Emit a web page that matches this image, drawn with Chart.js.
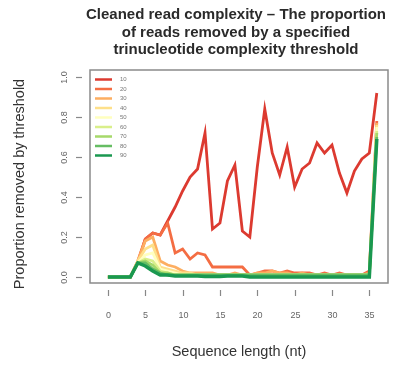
<!DOCTYPE html>
<html>
<head>
<meta charset="utf-8">
<script src="https://cdn.jsdelivr.net/npm/chart.js@4.4.0/dist/chart.umd.min.js"></script>
<style>
  body { margin: 0; background: #fff; }
  canvas { display: block; }
</style>
</head>
<body>
<canvas id="complexity-chart" width="406" height="365"></canvas>
<script>
// Sequence lengths (nt) on the x axis
const lengths = [0, 1, 2, 3, 4, 5, 6, 7, 8, 9, 10, 11, 12, 13, 14, 15, 16, 17, 18, 19, 20,
  21, 22, 23, 24, 25, 26, 27, 28, 29, 30, 31, 32, 33, 34, 35, 36];

// Complexity thresholds (legend) and their colours
const thresholds = ["10", "20", "30", "40", "50", "60", "70", "80", "90"];
const colours = ["#dc3a30", "#f46d43", "#fdae61", "#fee08b", "#ffffbf",
  "#d9ef8b", "#a6d96a", "#66bd63", "#1a9850"];

// Proportion of reads removed, one array per threshold
const removed10 = [0, 0, 0, 0, 0.07, 0.19, 0.22, 0.21, 0.28, 0.35, 0.43, 0.50, 0.54, 0.72, 0.24, 0.27, 0.48, 0.56, 0.23, 0.20,
  0.55, 0.84, 0.62, 0.51, 0.65, 0.45, 0.54, 0.57, 0.67, 0.62, 0.66, 0.52, 0.42, 0.53, 0.59, 0.62, 0.92];
const removed20 = [0, 0, 0, 0, 0.08, 0.19, 0.22, 0.21, 0.27, 0.12, 0.14, 0.09, 0.12, 0.11, 0.05, 0.05, 0.05, 0.05, 0.05, 0.01,
  0.02, 0.03, 0.03, 0.02, 0.03, 0.02, 0.02, 0.02, 0.01, 0.02, 0.01, 0.02, 0.01, 0.01, 0.01, 0.03, 0.78];
const removed30 = [0, 0, 0, 0, 0.08, 0.18, 0.20, 0.08, 0.06, 0.05, 0.03, 0.02, 0.02, 0.02, 0.02, 0.01, 0.01, 0.02, 0.01, 0.01,
  0.02, 0.02, 0.03, 0.02, 0.02, 0.01, 0.02, 0.01, 0.01, 0.01, 0.01, 0.01, 0.01, 0.01, 0.01, 0.02, 0.77];
const removed40 = [0, 0, 0, 0, 0.08, 0.14, 0.16, 0.05, 0.04, 0.03, 0.02, 0.02, 0.01, 0.01, 0.01, 0.01, 0.01, 0.01, 0.01, 0.01,
  0.01, 0.01, 0.01, 0.01, 0.01, 0.01, 0.01, 0.01, 0.01, 0.01, 0.01, 0.01, 0.01, 0.01, 0.01, 0.01, 0.76];
const removed50 = [0, 0, 0, 0, 0.07, 0.11, 0.12, 0.04, 0.03, 0.02, 0.01, 0.01, 0.01, 0.01, 0.01, 0.01, 0.01, 0.01, 0.01, 0.01,
  0.01, 0.01, 0.01, 0.01, 0.01, 0.01, 0.01, 0.01, 0.01, 0.01, 0.01, 0.01, 0.01, 0.01, 0.01, 0.01, 0.75];
const removed60 = [0, 0, 0, 0, 0.07, 0.09, 0.08, 0.03, 0.02, 0.01, 0.01, 0.01, 0.01, 0.01, 0.01, 0.01, 0.01, 0.01, 0.01, 0.01,
  0.01, 0.01, 0.01, 0.01, 0.01, 0.01, 0.01, 0.01, 0.01, 0.01, 0.01, 0.01, 0.01, 0.01, 0.01, 0.01, 0.73];
const removed70 = [0, 0, 0, 0, 0.07, 0.08, 0.06, 0.02, 0.02, 0.01, 0.01, 0.01, 0.01, 0.01, 0.01, 0.01, 0.01, 0.01, 0.01, 0.01,
  0.01, 0.01, 0.01, 0.01, 0.01, 0.01, 0.01, 0.01, 0.01, 0.01, 0.01, 0.01, 0.01, 0.01, 0.01, 0.01, 0.72];
const removed80 = [0, 0, 0, 0, 0.07, 0.07, 0.04, 0.02, 0.01, 0.01, 0.01, 0.01, 0.01, 0.01, 0.01, 0.01, 0.01, 0.01, 0.01, 0.01,
  0.01, 0.01, 0.01, 0.01, 0.01, 0.01, 0.01, 0.01, 0.01, 0.01, 0.01, 0.01, 0.01, 0.01, 0.01, 0.01, 0.70];
const removed90 = [0, 0, 0, 0, 0.07, 0.055, 0.03, 0.01, 0.01, 0.005, 0.005, 0.005, 0.005, 0.003, 0.003, 0.003, 0.005, 0.005, 0.005, 0,
  0, 0, 0, 0, 0, 0, 0, 0, 0, 0, 0, 0, 0, 0, 0, 0, 0.69];

const seriesValues = [removed10, removed20, removed30, removed40, removed50,
  removed60, removed70, removed80, removed90];

// Axis ticks and texts
const xTicks = [0, 5, 10, 15, 20, 25, 30, 35];
const yTicks = [0, 0.2, 0.4, 0.6, 0.8, 1.0];
const titleLines = [
  "Cleaned read complexity \u2013 The proportion",
  "of reads removed by a specified",
  "trinucleotide complexity threshold",
];
const xTitle = "Sequence length (nt)";
const yTitle = "Proportion removed by threshold";

const FONT = "'Liberation Sans', Arial, Helvetica, sans-serif";

// R style box, detached ticks, titles and inset legend
const baseGraphics = {
  id: "baseGraphics",
  afterDraw(chart) {
    const { ctx, chartArea: area, scales } = chart;
    const xs = scales.x;
    const ys = scales.y;
    ctx.save();

    // plot box
    ctx.strokeStyle = "#8a8a8a";
    ctx.lineWidth = 1.5;
    ctx.strokeRect(area.left, area.top, area.right - area.left, area.bottom - area.top);

    // x axis ticks + labels
    ctx.strokeStyle = "#888";
    ctx.lineWidth = 1.2;
    ctx.fillStyle = "#666";
    ctx.font = "9px " + FONT;
    ctx.textAlign = "center";
    ctx.textBaseline = "middle";
    xTicks.forEach((v) => {
      const px = Math.round(xs.getPixelForValue(v)) + 0.5;
      ctx.beginPath();
      ctx.moveTo(px, area.bottom + 7);
      ctx.lineTo(px, area.bottom + 13);
      ctx.stroke();
      ctx.fillText(String(v), px, area.bottom + 33);
    });

    // y axis ticks + rotated labels
    yTicks.forEach((v) => {
      const py = Math.round(ys.getPixelForValue(v)) + 0.5;
      ctx.beginPath();
      ctx.moveTo(area.left - 14, py);
      ctx.lineTo(area.left - 8, py);
      ctx.stroke();
      ctx.save();
      ctx.translate(area.left - 25, py);
      ctx.rotate(-Math.PI / 2);
      ctx.fillText(v.toFixed(1), 0, 0);
      ctx.restore();
    });

    // main title
    const cx = (area.left + area.right) / 2;
    ctx.fillStyle = "#2a2a2a";
    ctx.font = "bold 15px " + FONT;
    titleLines.forEach((line, i) => {
      ctx.fillText(line, cx - 3, 15 + i * 17.5);
    });

    // axis titles
    ctx.fillStyle = "#333";
    ctx.font = "14.5px " + FONT;
    ctx.fillText(xTitle, cx, 352);
    ctx.save();
    ctx.translate(20, 184);
    ctx.rotate(-Math.PI / 2);
    ctx.fillText(yTitle, 0, 0);
    ctx.restore();

    // legend inside the plot, top left
    ctx.font = "6px " + FONT;
    ctx.textAlign = "left";
    chart.data.datasets.forEach((ds, i) => {
      const ly = area.top + 9.5 + i * 9.5;
      ctx.strokeStyle = ds.borderColor;
      ctx.lineWidth = 2.5;
      ctx.beginPath();
      ctx.moveTo(area.left + 5, ly);
      ctx.lineTo(area.left + 22, ly);
      ctx.stroke();
      ctx.fillStyle = "#777";
      ctx.fillText(ds.label, area.left + 30, ly);
    });

    ctx.restore();
  },
};

const datasets = seriesValues.map((values, i) => ({
  label: thresholds[i],
  data: lengths.map((len, j) => ({ x: len, y: values[j] })),
  borderColor: colours[i],
  backgroundColor: colours[i],
  borderWidth: i === seriesValues.length - 1 ? 3.5 : 2.8,
  pointRadius: 0,
  tension: 0,
  fill: false,
  order: seriesValues.length - i, // last threshold drawn on top
}));

new Chart(document.getElementById("complexity-chart").getContext("2d"), {
  type: "line",
  data: { datasets: datasets },
  options: {
    responsive: false,
    animation: false,
    layout: { padding: { left: 90, right: 18, top: 70, bottom: 82 } },
    scales: {
      x: { type: "linear", min: -2.4, max: 37.5, display: false },
      y: { type: "linear", min: -0.03, max: 1.035, display: false },
    },
    plugins: {
      legend: { display: false },
      title: { display: false },
      tooltip: { enabled: false },
    },
  },
  plugins: [baseGraphics],
});
</script>
</body>
</html>
